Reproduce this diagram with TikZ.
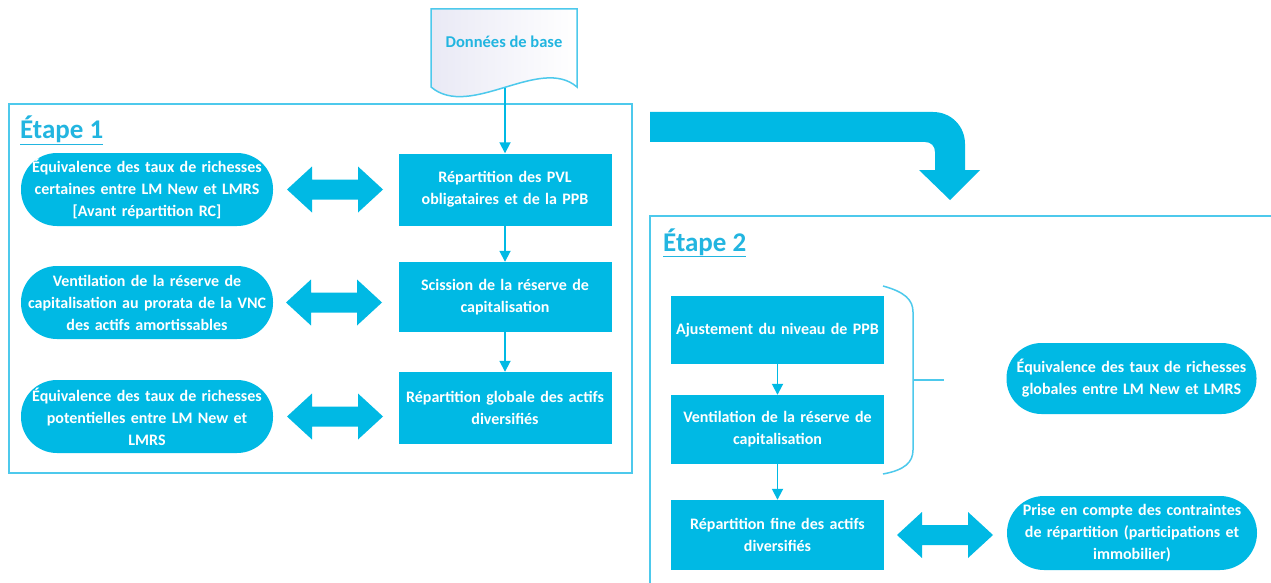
\documentclass[tikz,border=0pt]{standalone}
\usepackage{fontspec}
\setmainfont{Carlito}
\usetikzlibrary{arrows.meta}
\definecolor{cy}{HTML}{00B9E4}
\definecolor{cyl}{HTML}{4DC9EC}
\definecolor{cyt}{HTML}{22B5E0}
\definecolor{docbg}{HTML}{E9E9F5}
\begin{document}
\begin{tikzpicture}[x=1pt,y=-1pt,
 box/.style={fill=cy, draw=none, minimum width=213pt, minimum height=72pt, text width=210pt, align=center, text=white, font=\bfseries\fontsize{16}{22}\selectfont, inner sep=0pt},
 oval/.style={box, rounded corners=36pt, minimum width=252pt, minimum height=73pt, text width=250pt},
 conn/.style={draw=cy, line width=1.8pt, -{Triangle[width=11pt,length=11pt]}},
 frame/.style={draw=cyl, line width=1.5pt},
 head/.style={text=cyt, font=\bfseries\fontsize{27}{30}\selectfont, anchor=base west, inner sep=0pt},
 dbl/.pic={\fill[cy] (-48,0) -- (-23,-23) -- (-23,-10) -- (23,-10) -- (23,-23) -- (48,0) -- (23,23) -- (23,10) -- (-23,10) -- (-23,23) -- cycle;}
]
\useasboundingbox (0,0) rectangle (1271,583);
\fill[white] (0,0) rectangle (1271,583);
\begin{scope}
\clip (0,0) rectangle (1271,583);
% frames
\draw[frame] (9,104) rectangle (632,473);
\draw[frame] (1280,216) -- (650,216) -- (650,590);
\end{scope}
% headings
\node[head] (h1) at (20,139) {\underline{Étape 1}};
\node[head] (h2) at (663,251) {\underline{Étape 2}};
% document shape
\shade[left color=docbg, right color=white, draw=cyl, line width=1.5pt]
  (431,9) -- (577,9) -- (577,87) .. controls (540,55) and (470,120) .. (431,87) -- cycle;
\node[text=cyt, font=\bfseries\fontsize{16.5}{18}\selectfont] (base) at (504,42) {Données de base};
\coordinate (bb) at (505,88);
% Etape 1
\node[box] (b1) at (505,189.5) {Répartition des PVL\\obligataires et de la PPB};
\node[box, minimum height=70pt] (b2) at (505,297) {Scission de la réserve de\\capitalisation};
\node[box] (b3) at (505,408) {Répartition globale des actifs\\diversifiés};
\node[oval] (o1) at (147,189.5) {Équivalence des taux de richesses\\certaines entre LM New et LMRS\\{[}Avant répartition RC{]}};
\node[oval] (o2) at (147,302.5) {Ventilation de la réserve de\\capitalisation au prorata de la VNC\\des actifs amortissables};
\node[oval] (o3) at (147,416.5) {Équivalence des taux de richesses\\potentielles entre LM New et\\LMRS};
\draw[conn] (bb) -- (b1);
\draw[conn] (b1) -- (b2);
\draw[conn] (b2) -- (b3);
\pic at (335,189.5) {dbl};
\pic at (334,302.5) {dbl};
\pic at (335,416.5) {dbl};
% big curved arrow
\fill[cy] (650,112) -- (933,112) .. controls (951,112) and (965,126) .. (965,144) -- (965,170) -- (980,170) -- (950,200) -- (919,170) -- (935,170) -- (935,152) .. controls (935,146) and (931,142) .. (925,142) -- (650,142) -- cycle;
% Etape 2
\node[box, minimum height=68pt] (c1) at (777.5,330) {Ajustement du niveau de PPB};
\node[box, minimum height=69pt] (c2) at (777.5,429.5) {Ventilation de la réserve de\\capitalisation};
\node[box, minimum height=70pt] (c3) at (777.5,535) {Répartition fine des actifs\\diversifiés};
\node[oval, minimum width=249pt, minimum height=71pt, rounded corners=35pt] (o4) at (1131.5,378.5) {Équivalence des taux de richesses\\globales entre LM New et LMRS};
\node[oval, minimum width=248pt, minimum height=74pt, rounded corners=37pt] (o5) at (1132,533) {Prise en compte des contraintes\\de répartition (participations et\\immobilier)};
\draw[conn] (c1) -- (c2);
\draw[conn] (c2) -- (c3);
\pic at (945,535) {dbl};
% brace
\draw[cyl, line width=1.5pt] (883,286) .. controls (905,292) and (913,300) .. (913,312) -- (913,450) .. controls (913,462) and (905,470) .. (883,474);
\draw[cyl, line width=1.5pt] (913,380) -- (944,380);
\end{tikzpicture}
\end{document}
